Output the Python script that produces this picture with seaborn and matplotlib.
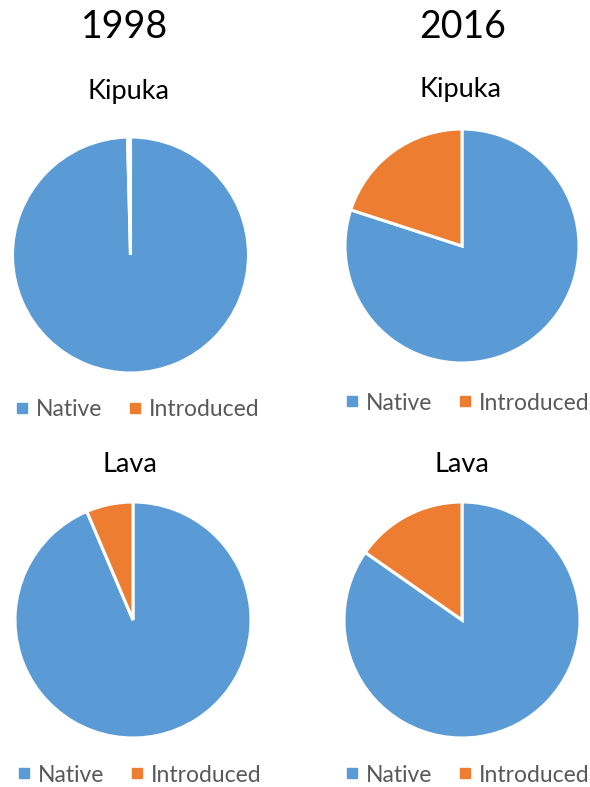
import matplotlib
matplotlib.use("Agg")
import matplotlib.pyplot as plt
from matplotlib.lines import Line2D
import seaborn as sns

# ---- data ----
years = ["1998", "2016"]
sites = ["Kipuka", "Lava"]
categories = ["Native", "Introduced"]
kipuka_1998 = [99.6, 0.4]
kipuka_2016 = [80.0, 20.0]
lava_1998 = [93.6, 6.4]
lava_2016 = [84.7, 15.3]

sns.set_theme(style="white")
plt.rcParams["font.family"] = ["Lato", "DejaVu Sans"]
colors = ["#5B9BD5", "#ED7D31"]

W, H = 590, 787
fig = plt.figure(figsize=(W / 100, H / 100), dpi=100)
fig.patch.set_facecolor("white")

def fx(x):
    return x / W

def fy(y):
    return 1 - y / H

panels = [
    (kipuka_1998, (130.5, 255, 118), sites[0], (128, 92), (137, 410)),
    (kipuka_2016, (462, 246, 117), sites[0], (461, 89), (467, 403)),
    (lava_1998, (133, 620, 118), sites[1], (130, 465), (139, 775)),
    (lava_2016, (462, 620, 118), sites[1], (462, 465), (467, 775)),
]

for vals, (cx, cy, r), title, (tx, ty), (lx, ly) in panels:
    ax = fig.add_axes([fx(cx - r), fy(cy + r), 2 * r / W, 2 * r / H])
    ax.pie(vals, colors=colors, startangle=90, counterclock=False,
           wedgeprops=dict(edgecolor="white", linewidth=2.2))
    ax.set_xlim(-1, 1)
    ax.set_ylim(-1, 1)
    ax.set_aspect("equal")
    ax.axis("off")
    fig.text(fx(tx), fy(ty), title, ha="center", va="center", fontsize=19.5, color="#000000")
    handles = [Line2D([0], [0], marker="s", linestyle="none", markersize=6.5,
                      markerfacecolor=c, markeredgecolor=c) for c in colors]
    fig.legend(handles, categories, loc="center", bbox_to_anchor=(fx(lx), fy(ly)),
               ncol=2, frameon=False, fontsize=16.5, labelcolor="#595959",
               handletextpad=0.25, columnspacing=1.1, handlelength=0.7,
               borderaxespad=0, borderpad=0)

fig.text(fx(125), fy(27), years[0], ha="center", va="center", fontsize=27, color="#000000")
fig.text(fx(463), fy(27), years[1], ha="center", va="center", fontsize=27, color="#000000")

fig.savefig("out.png", dpi=100, facecolor="white")
